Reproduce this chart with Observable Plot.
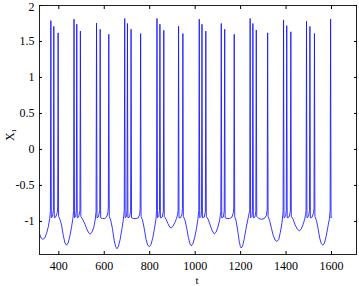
<!DOCTYPE html>
<html><head><meta charset="utf-8">
<script src="https://cdn.jsdelivr.net/npm/d3@7"></script>
<script src="https://cdn.jsdelivr.net/npm/@observablehq/plot@0.6"></script>
<style>body{margin:0;background:#fff}</style>
</head><body><div id="chart"></div>
<script>
const t = [
315,322,330,338,346,354,360,363,365,367,372,376,378,380,386,393,395,397,399,405,412,420,427,434,441,449,456,462,465,
467,469,474,477,479,481,487,493,495,497,505,515,525,532,539,546,554,560,564,
566,568,574,580,582,584,592,602,610,616,618,620,622,628,636,644,650,656,662,670,678,684,688,
690,692,698,700,702,704,711,716,718,720,728,740,750,756,758,760,762,768,776,784,791,799,806,814,822,828,830,
832,834,840,843,845,847,855,860,862,864,872,880,888,895,902,910,918,923,925,927,929,936,942,944,946,948,955,962,970,977,983,990,998,1006,1012,1016,
1018,1020,1026,1028,1030,1032,1040,1045,1047,1049,1057,1066,1075,1084,1092,1100,1108,1113,
1115,1117,1124,1128,1130,1132,1140,1152,1162,1168,1170,1172,1174,1180,1187,1194,1199,1203,1209,1216,1224,1232,1238,1240,
1242,1244,1250,1252,1254,1256,1263,1267,1269,1271,1280,1292,1305,1313,1317,1319,1321,1328,1336,1344,1352,1360,1368,1375,1382,1386,1387,
1389,1391,1398,1401,1403,1405,1413,1419,1421,1423,1431,1440,1450,1458,1466,1474,1482,1486,1488,
1490,1492,1499,1503,1505,1507,1515,1521,1523,1525,1527,1534,1541,1548,1555,1562,1569,1577,1585,1591,1594,
1596,1598,1600
];
const x1 = [
-1.17,-1.23,-1.25,-1.23,-1.17,-1.07,-0.96,-0.85,1.79,-0.95,-0.93,-0.85,1.71,-0.95,-0.94,-0.88,-0.8,1.62,-0.93,-0.97,-1.05,-1.2,-1.3,-1.33,-1.3,-1.2,-1.08,-0.96,-0.85,
1.81,-0.95,-0.93,-0.85,1.74,-0.95,-0.94,-0.85,1.645,-0.93,-0.97,-1.04,-1.12,-1.16,-1.175,-1.15,-1.08,-0.98,-0.86,
1.756,-0.95,-0.94,-0.85,1.67,-0.95,-0.96,-0.96,-0.94,-0.88,-0.8,1.6,-0.93,-0.98,-1.1,-1.27,-1.35,-1.38,-1.35,-1.25,-1.1,-0.97,-0.85,
1.82,-0.95,-0.93,-0.85,1.75,-0.95,-0.94,-0.86,1.67,-0.95,-0.96,-0.96,-0.95,-0.9,-0.82,1.61,-0.93,-0.98,-1.1,-1.25,-1.33,-1.35,-1.32,-1.22,-1.08,-0.96,-0.85,
1.82,-0.95,-0.93,-0.85,1.74,-0.95,-0.94,-0.86,1.655,-0.93,-0.97,-1.03,-1.08,-1.09,-1.07,-1.02,-0.96,-0.9,-0.84,1.71,-0.95,-0.95,-0.9,-0.82,1.61,-0.93,-0.98,-1.08,-1.22,-1.31,-1.34,-1.31,-1.22,-1.1,-0.97,-0.85,
1.81,-0.95,-0.93,-0.85,1.74,-0.95,-0.94,-0.86,1.645,-0.93,-0.97,-1.05,-1.13,-1.175,-1.15,-1.08,-0.98,-0.86,
1.75,-0.95,-0.94,-0.85,1.67,-0.95,-0.96,-0.96,-0.94,-0.88,-0.8,1.6,-0.93,-0.99,-1.12,-1.28,-1.35,-1.37,-1.34,-1.24,-1.1,-0.97,-0.88,-0.85,
1.82,-0.95,-0.93,-0.85,1.75,-0.95,-0.94,-0.86,1.66,-0.93,-0.96,-0.97,-0.96,-0.92,-0.84,1.62,-0.93,-0.99,-1.1,-1.2,-1.26,-1.28,-1.25,-1.15,-1.02,-0.9,-0.85,
1.80,-0.95,-0.93,-0.85,1.72,-0.95,-0.94,-0.86,1.635,-0.93,-0.97,-1.05,-1.11,-1.13,-1.11,-1.05,-0.97,-0.9,-0.85,
1.78,-0.95,-0.93,-0.85,1.71,-0.95,-0.94,-0.88,-0.82,1.61,-0.93,-0.99,-1.1,-1.23,-1.31,-1.33,-1.3,-1.2,-1.06,-0.96,-0.85,
1.81,-0.95,-0.94
];
const xTicks = [400, 600, 800, 1000, 1200, 1400, 1600];
const yTicks = [-1, -0.5, 0, 0.5, 1, 1.5, 2];

const data = t.map((d, i) => ({t: d, x1: x1[i]}));
const font = "Liberation Serif";
const chart = Plot.plot({
  width: 359, height: 286,
  marginLeft: 39, marginRight: 3, marginTop: 5, marginBottom: 32,
  style: {fontFamily: font, fontSize: "12px", color: "#000", background: "#fff"},
  x: {domain: [315, 1710]},
  y: {domain: [-1.46, 2]},
  marks: [
    Plot.line(data, {x: "t", y: "x1", stroke: "#1515ff", strokeWidth: 1, strokeOpacity: 0.85}),
    Plot.frame({stroke: "#222"}),
    Plot.axisX(xTicks, {anchor: "bottom", tickSize: -3, tickPadding: 10, tickFormat: d => String(d), label: null, fontSize: 12}),
    Plot.axisX(xTicks, {anchor: "top", tickSize: -3, tickFormat: () => "", label: null, ariaLabel: "mirror"}),
    Plot.axisY(yTicks, {anchor: "left", tickSize: -3, tickPadding: 8, tickFormat: d => String(d), label: null, fontSize: 12}),
    Plot.axisY(yTicks, {anchor: "right", tickSize: -3, tickFormat: () => "", label: null, ariaLabel: "mirror"})
  ]
});
document.getElementById("chart").appendChild(chart);
// remove empty mirror-axis labels; nudge the top "2" label inside the canvas
chart.querySelectorAll("text").forEach(el => {
  if (el.textContent === "") el.remove();
  else if (el.textContent === "2") el.setAttribute("dy", "1.5");
});
const ns = "http://www.w3.org/2000/svg";
// x label
const xl = document.createElementNS(ns, "text");
xl.setAttribute("x", "197");
xl.setAttribute("y", "284");
xl.setAttribute("text-anchor", "middle");
xl.setAttribute("font-family", font);
xl.setAttribute("font-size", "11");
xl.textContent = "t";
chart.appendChild(xl);
// Y label X with subscript 1
const lab = document.createElementNS(ns, "text");
lab.setAttribute("transform", "translate(14,135) rotate(-90)");
lab.setAttribute("text-anchor", "middle");
lab.setAttribute("font-family", font);
lab.setAttribute("font-size", "12");
lab.appendChild(document.createTextNode("X"));
const sub = document.createElementNS(ns, "tspan");
sub.setAttribute("font-size", "7");
sub.setAttribute("dy", "2");
sub.textContent = "1";
lab.appendChild(sub);
chart.appendChild(lab);
</script></body></html>
